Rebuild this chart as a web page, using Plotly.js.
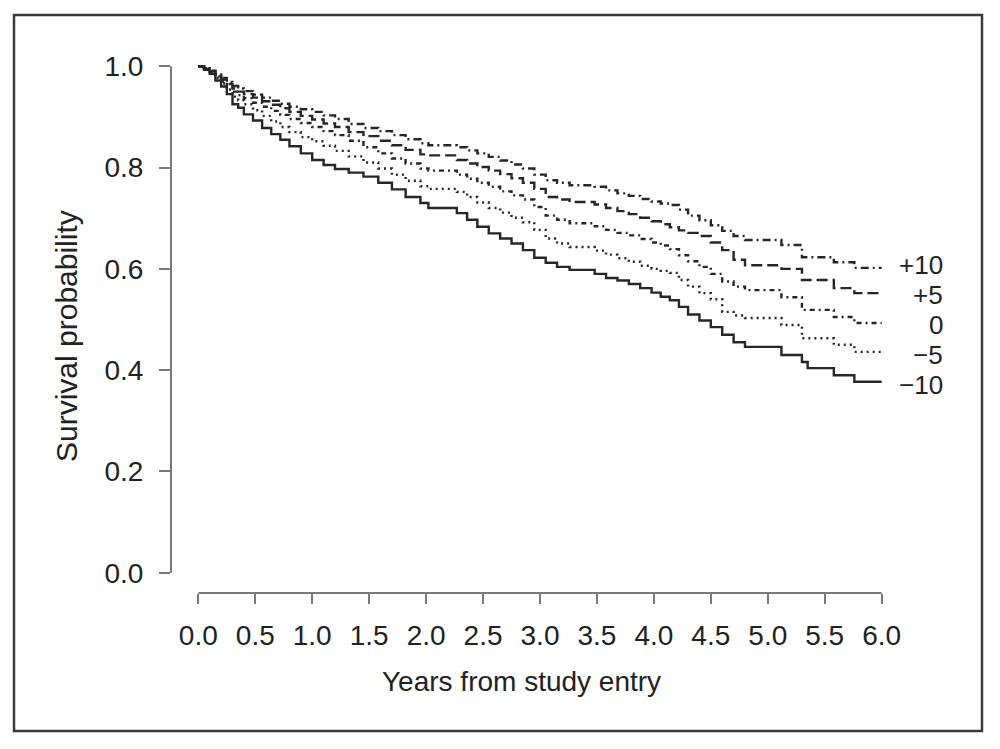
<!DOCTYPE html>
<html>
<head>
<meta charset="utf-8">
<script src="https://cdn.plot.ly/plotly-3.0.1.min.js"></script>
<style>
  html, body { margin: 0; padding: 0; background: #fff; }
  #grafica { width: 1000px; height: 749px; }
</style>
</head>
<body>
<div id="grafica"></div>
<script>
// tiempos (años desde el ingreso) y curvas de supervivencia
var tiempos = [0.00, 0.05, 0.10, 0.15, 0.20, 0.25, 0.30, 0.35, 0.40, 0.48, 0.56, 0.64, 0.72, 0.80, 0.90,
  1.00, 1.10, 1.20, 1.32, 1.45, 1.58, 1.70, 1.82, 1.95, 2.02, 2.27, 2.36, 2.45, 2.55, 2.65,
  2.75, 2.85, 2.95, 3.05, 3.15, 3.26, 3.48, 3.58, 3.68, 3.78, 3.88, 3.98, 4.06, 4.14, 4.22,
  4.30, 4.40, 4.50, 4.60, 4.70, 4.80, 5.12, 5.30, 5.35, 5.58, 5.76, 6.00];

var sMas10 = [1.000, 0.996, 0.991, 0.984, 0.977, 0.969, 0.961, 0.956, 0.951, 0.944, 0.938, 0.932, 0.926, 0.920, 0.915,
  0.910, 0.903, 0.896, 0.886, 0.878, 0.872, 0.864, 0.856, 0.848, 0.844, 0.840, 0.834, 0.828, 0.821, 0.814,
  0.806, 0.798, 0.786, 0.775, 0.770, 0.765, 0.762, 0.755, 0.749, 0.744, 0.738, 0.733, 0.729, 0.726, 0.717,
  0.705, 0.696, 0.686, 0.675, 0.665, 0.657, 0.647, 0.623, 0.623, 0.613, 0.602, 0.602];

var sMas5 = [1.000, 0.996, 0.990, 0.982, 0.974, 0.965, 0.956, 0.950, 0.945, 0.938, 0.931, 0.924, 0.917, 0.910, 0.902,
  0.895, 0.887, 0.880, 0.870, 0.862, 0.853, 0.844, 0.835, 0.826, 0.824, 0.815, 0.808, 0.801, 0.794, 0.787,
  0.779, 0.770, 0.758, 0.742, 0.737, 0.732, 0.727, 0.720, 0.714, 0.708, 0.701, 0.694, 0.688, 0.682, 0.676,
  0.671, 0.665, 0.652, 0.637, 0.618, 0.607, 0.600, 0.578, 0.578, 0.562, 0.552, 0.552];

var sCero = [1.000, 0.995, 0.989, 0.980, 0.970, 0.960, 0.950, 0.943, 0.937, 0.928, 0.920, 0.912, 0.904, 0.896, 0.888,
  0.880, 0.872, 0.864, 0.853, 0.840, 0.828, 0.818, 0.808, 0.798, 0.794, 0.786, 0.778, 0.770, 0.762, 0.753,
  0.745, 0.737, 0.722, 0.705, 0.697, 0.690, 0.684, 0.677, 0.671, 0.666, 0.659, 0.652, 0.646, 0.639, 0.627,
  0.615, 0.604, 0.590, 0.575, 0.565, 0.558, 0.544, 0.519, 0.519, 0.505, 0.493, 0.493];

var sMenos5 = [1.000, 0.994, 0.987, 0.977, 0.966, 0.954, 0.940, 0.933, 0.925, 0.913, 0.902, 0.891, 0.880, 0.870, 0.860,
  0.852, 0.843, 0.833, 0.822, 0.810, 0.798, 0.786, 0.774, 0.763, 0.758, 0.752, 0.742, 0.731, 0.720, 0.711,
  0.701, 0.692, 0.677, 0.660, 0.650, 0.643, 0.636, 0.628, 0.621, 0.614, 0.606, 0.600, 0.596, 0.592, 0.578,
  0.565, 0.552, 0.540, 0.515, 0.508, 0.503, 0.489, 0.463, 0.463, 0.450, 0.436, 0.436];

var sMenos10 = [1.000, 0.993, 0.985, 0.972, 0.960, 0.945, 0.925, 0.918, 0.905, 0.893, 0.878, 0.866, 0.855, 0.842, 0.828,
  0.815, 0.805, 0.797, 0.790, 0.782, 0.770, 0.757, 0.742, 0.730, 0.720, 0.710, 0.697, 0.683, 0.670, 0.660,
  0.650, 0.637, 0.622, 0.612, 0.604, 0.598, 0.590, 0.582, 0.577, 0.570, 0.562, 0.553, 0.545, 0.538, 0.525,
  0.510, 0.498, 0.485, 0.470, 0.455, 0.446, 0.430, 0.416, 0.404, 0.390, 0.377, 0.377];

var etiquetas = ['+10', '+5', '0', '\u22125', '\u221210'];
var series = [sMas10, sMas5, sCero, sMenos5, sMenos10];
var trazos = ['8px,4px,2px,4px', '11px,5px', '5px,4px,2px,4px', '2px,4px', 'solid'];
// pequeño ajuste vertical de las etiquetas para que no se pisen
var desplazY = [3, -2, -2, -3, -3];

var ticksX = [0, 0.5, 1, 1.5, 2, 2.5, 3, 3.5, 4, 4.5, 5, 5.5, 6];
var ticksY = [0, 0.2, 0.4, 0.6, 0.8, 1.0];

// márgenes en píxeles (región del gráfico estilo R con 4% de holgura)
var ML = 171, MR = 91, MT = 46, MB = 156;
var W = 1000, H = 749;
var PW = W - ML - MR, PH = H - MT - MB;
function px2x(px) { return (px - ML) / PW; }
function px2y(py) { return (H - MB - py) / PH; }

var fuente = 'Liberation Sans, Arial, Helvetica, sans-serif';
var colorLinea = '#262626';
var colorEje = '#7a7a7a';

var datos = series.map(function(s, i) {
  return {
    x: tiempos, y: s, type: 'scatter', mode: 'lines',
    line: { shape: 'hv', color: colorLinea, width: 2.4, dash: trazos[i] },
    name: etiquetas[i], hoverinfo: 'skip'
  };
});

var anotaciones = series.map(function(s, i) {
  return {
    x: tiempos[tiempos.length - 1], y: s[s.length - 1], xref: 'x', yref: 'y',
    text: etiquetas[i], showarrow: false, xanchor: 'right', yanchor: 'middle',
    xshift: 63, yshift: desplazY[i], align: 'right',
    font: { family: fuente, size: 26, color: '#222' }
  };
});

anotaciones.push({
  x: px2x(521), y: px2y(681), xref: 'paper', yref: 'paper',
  text: 'Years from study entry', showarrow: false,
  xanchor: 'center', yanchor: 'middle',
  font: { family: fuente, size: 28, color: '#222' }
});
anotaciones.push({
  x: px2x(66), y: px2y(336), xref: 'paper', yref: 'paper',
  text: 'Survival probability', showarrow: false, textangle: -90,
  xanchor: 'center', yanchor: 'middle',
  font: { family: fuente, size: 30, color: '#222' }
});

var formas = [
  // marco exterior
  { type: 'rect', xref: 'paper', yref: 'paper',
    x0: px2x(14), x1: px2x(982), y0: px2y(731), y1: px2y(15),
    line: { color: '#3a3a3a', width: 2.5 } },
  // ejes estilo R: sólo entre la primera y la última marca
  { type: 'line', xref: 'paper', yref: 'y', x0: 0, x1: 0, y0: 0, y1: 1,
    line: { color: colorEje, width: 2 } },
  { type: 'line', xref: 'x', yref: 'paper', x0: 0, x1: 6, y0: 0, y1: 0,
    line: { color: colorEje, width: 2 } }
];

var layout = {
  width: W, height: H,
  margin: { l: ML, r: MR, t: MT, b: MB, pad: 0 },
  paper_bgcolor: '#fff', plot_bgcolor: '#fff',
  showlegend: false,
  font: { family: fuente, color: '#222' },
  xaxis: {
    range: [-0.24, 6.24], tickvals: ticksX, ticktext: ticksX.map(function(v){ return v.toFixed(1); }),
    ticks: 'outside', ticklen: 10, tickwidth: 2, tickcolor: colorEje,
    showgrid: false, zeroline: false, showline: false,
    ticklabelstandoff: 7,
    tickfont: { family: fuente, size: 28, color: '#222' }
  },
  yaxis: {
    range: [-0.04, 1.04], tickvals: ticksY, ticktext: ticksY.map(function(v){ return v.toFixed(1); }),
    ticks: 'outside', ticklen: 11, tickwidth: 2, tickcolor: colorEje,
    showgrid: false, zeroline: false, showline: false,
    ticklabelstandoff: 10,
    tickfont: { family: fuente, size: 28, color: '#222' }
  },
  shapes: formas,
  annotations: anotaciones
};

Plotly.newPlot('grafica', datos, layout, { staticPlot: true, displayModeBar: false });
</script>
</body>
</html>
